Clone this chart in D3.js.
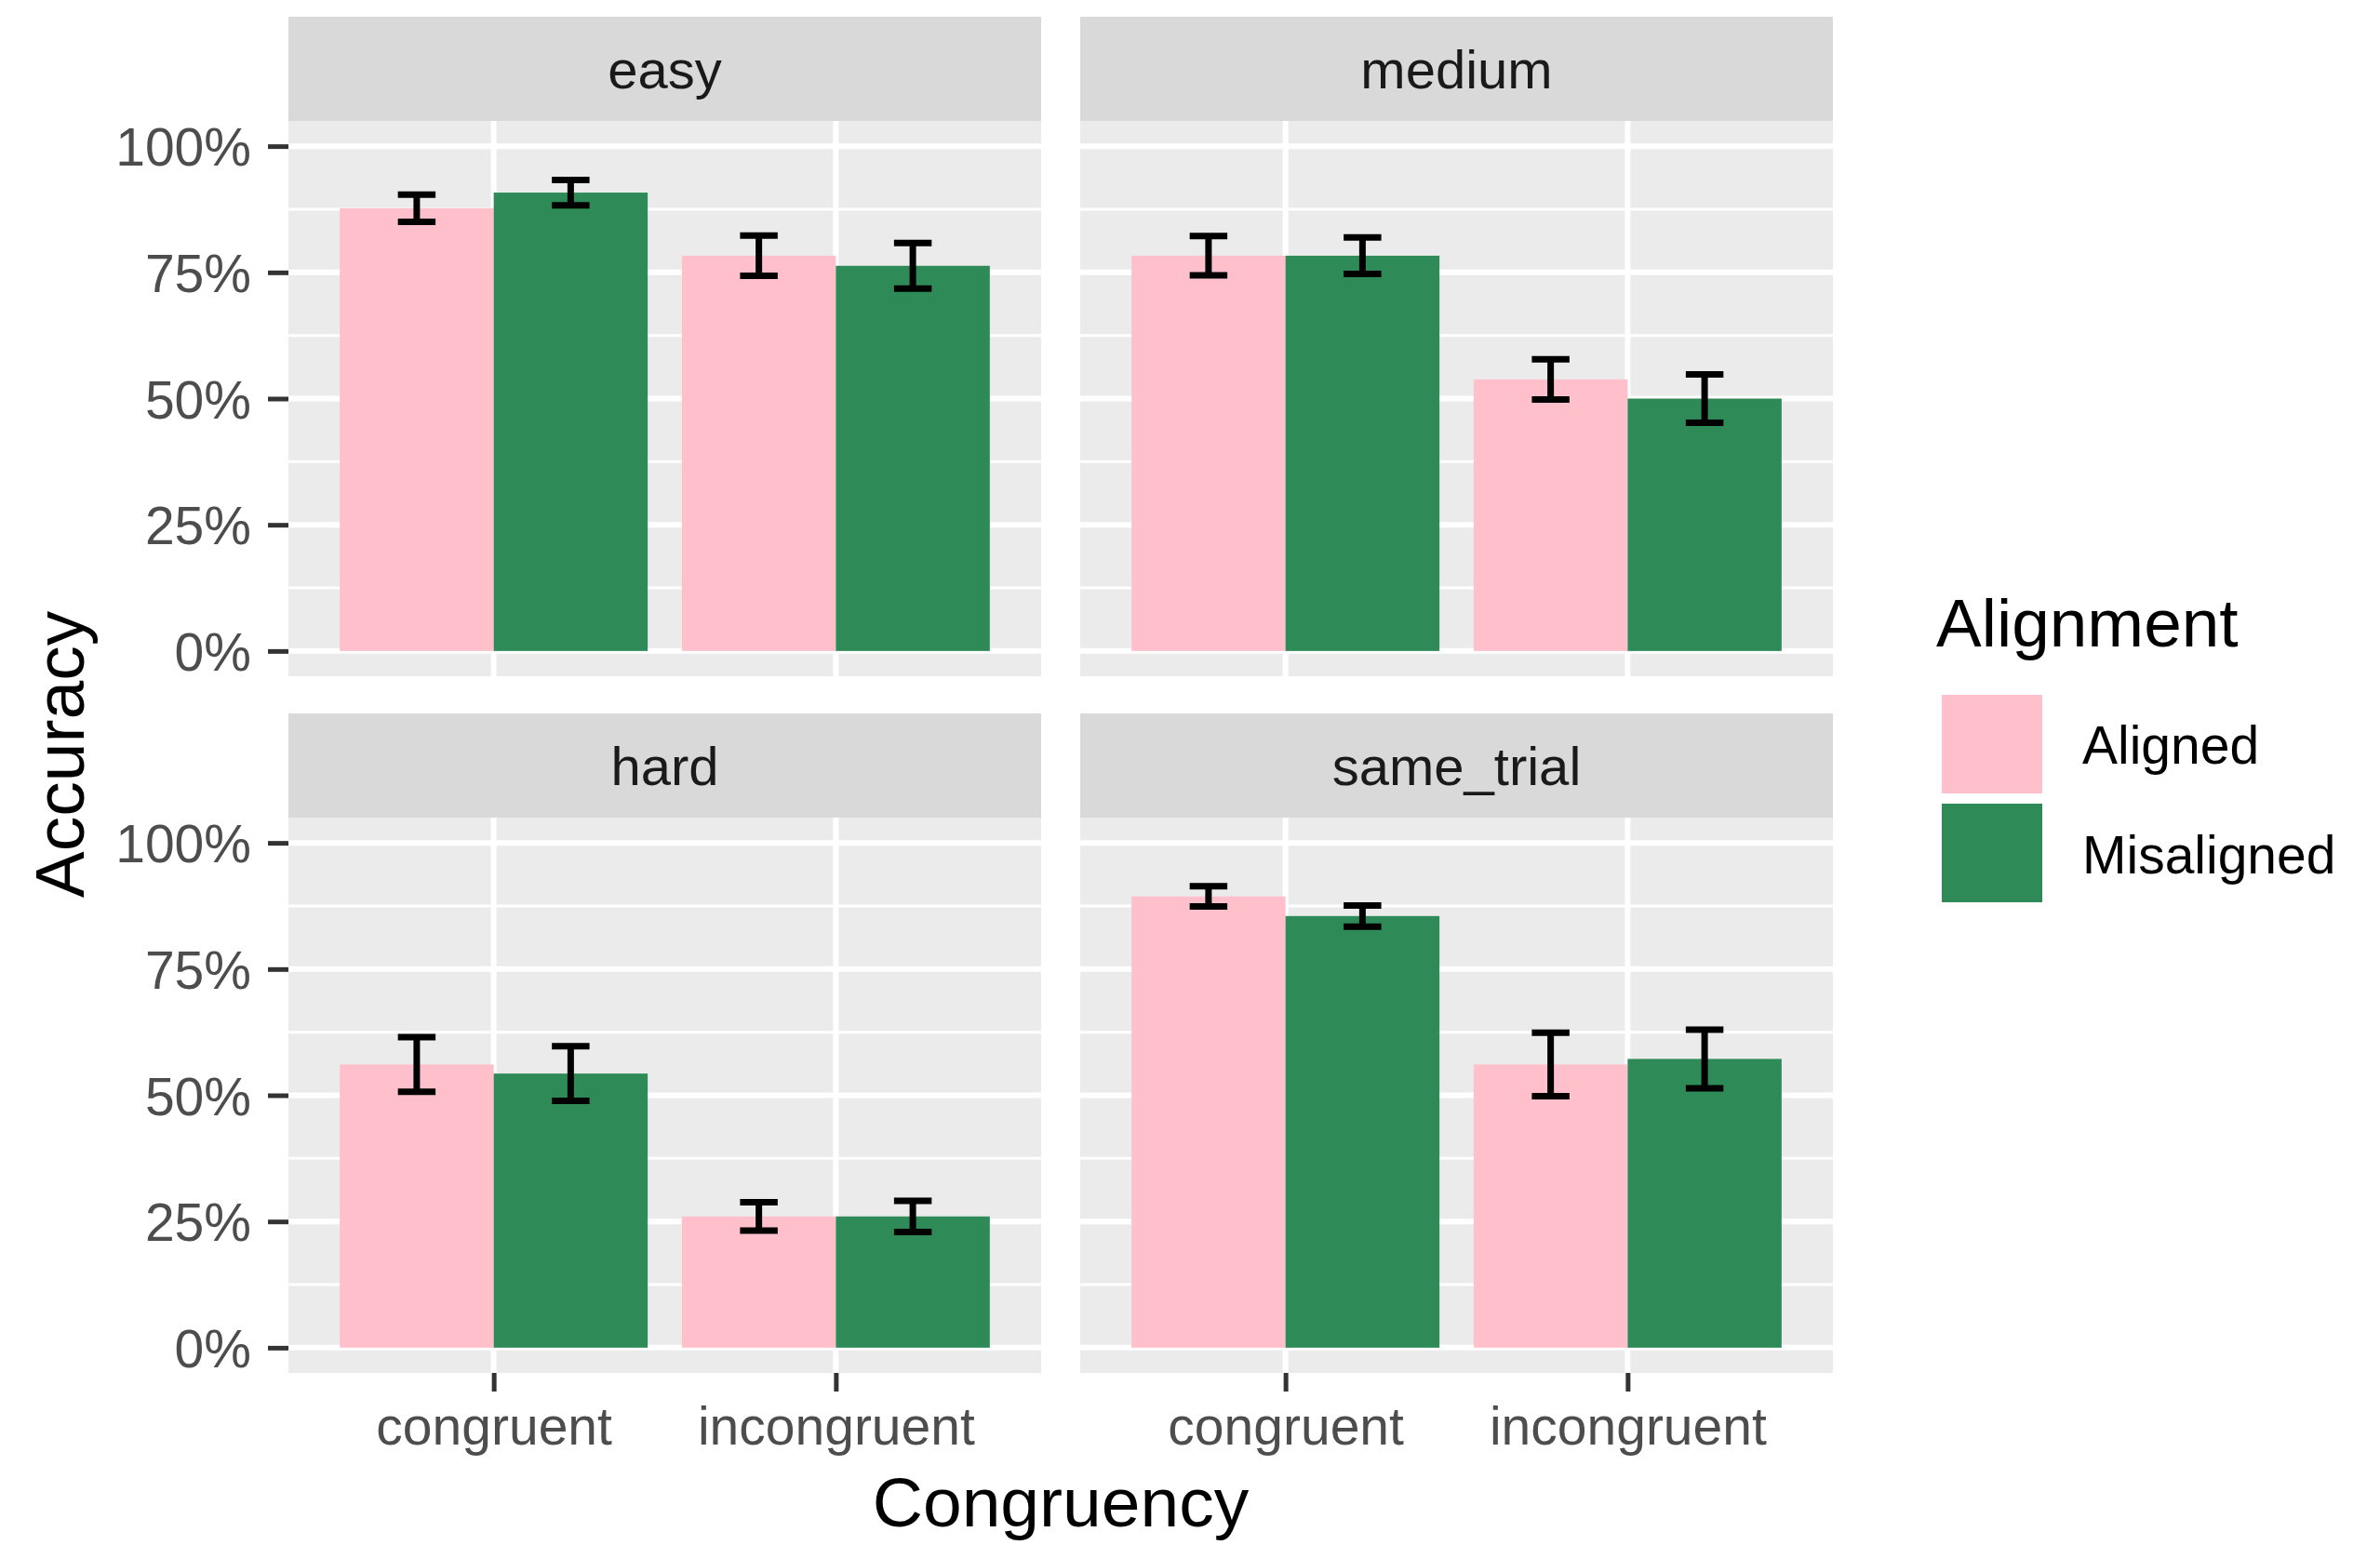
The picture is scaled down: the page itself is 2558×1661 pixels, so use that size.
<!DOCTYPE html>
<html>
<head>
<meta charset="utf-8">
<script src="https://cdn.jsdelivr.net/npm/d3@7"></script>
<style>
  body { margin: 0; background: #fff; }
  text { font-family: "Liberation Sans", Arial, Helvetica, sans-serif; }
</style>
</head>
<body>
<div id="chart"></div>
<script>
// facets, categories and groups
const panels = ["easy", "medium", "hard", "same_trial"];
const congruency = ["congruent", "incongruent"];
const alignment = ["Aligned", "Misaligned"];
const yTicks = [0, 0.25, 0.5, 0.75, 1];

// mean accuracy per panel: [congruent-Aligned, congruent-Misaligned, incongruent-Aligned, incongruent-Misaligned]
const easyAcc   = [0.877, 0.908, 0.783, 0.763];
const mediumAcc = [0.783, 0.783, 0.538, 0.500];
const hardAcc   = [0.561, 0.543, 0.260, 0.260];
const sameAcc   = [0.894, 0.855, 0.561, 0.572];

// error bar half widths, same order
const easyErr   = [0.027, 0.025, 0.040, 0.045];
const mediumErr = [0.039, 0.036, 0.040, 0.048];
const hardErr   = [0.054, 0.054, 0.028, 0.031];
const sameErr   = [0.020, 0.021, 0.063, 0.058];

const accByPanel = [easyAcc, mediumAcc, hardAcc, sameAcc];
const errByPanel = [easyErr, mediumErr, hardErr, sameErr];

const colors = d3.scaleOrdinal().domain(alignment).range(["pink", "seagreen"]);

const width = 2558, height = 1661;
const panelLefts = [310, 1161];
const stripTops = [18, 767];
const stripH = 112;
const pw = 809, ph = 597;

const svg = d3.select("#chart").append("svg")
    .attr("width", width).attr("height", height);
svg.append("rect").attr("width", width).attr("height", height).attr("fill", "#fff");

// ggplot-like discrete x: categories at 1,2, range 0.4..2.6
const x = d3.scaleLinear().domain([0.4, 2.6]).range([0, pw]);
const unit = x(1) - x(0);
const xSub = d3.scaleBand().domain(alignment).range([-0.45 * unit, 0.45 * unit]);
const y = d3.scaleLinear().domain([-0.05, 1.05]).range([ph, 0]);

panels.forEach(function(name, p) {
    var col = p % 2, row = Math.floor(p / 2);
    var left = panelLefts[col];
    var stripTop = stripTops[row];
    var top = stripTop + stripH;

    // strip
    svg.append("rect").attr("x", left).attr("y", stripTop)
        .attr("width", pw).attr("height", stripH).attr("fill", "#D9D9D9");
    svg.append("text").attr("x", left + pw / 2).attr("y", stripTop + stripH / 2 + 21)
        .attr("text-anchor", "middle").attr("font-size", 58).attr("fill", "#1A1A1A")
        .text(name);

    var g = svg.append("g").attr("transform", "translate(" + left + "," + top + ")");
    g.append("rect").attr("width", pw).attr("height", ph).attr("fill", "#EBEBEB");

    // minor grid
    g.selectAll(".minor").data([0.125, 0.375, 0.625, 0.875]).join("line")
        .attr("x1", 0).attr("x2", pw)
        .attr("y1", d => y(d)).attr("y2", d => y(d))
        .attr("stroke", "#fff").attr("stroke-width", 3);
    // major grid
    g.selectAll(".major").data(yTicks).join("line")
        .attr("x1", 0).attr("x2", pw)
        .attr("y1", d => y(d)).attr("y2", d => y(d))
        .attr("stroke", "#fff").attr("stroke-width", 6);
    g.selectAll(".vmajor").data(congruency).join("line")
        .attr("x1", (d, i) => x(i + 1)).attr("x2", (d, i) => x(i + 1))
        .attr("y1", 0).attr("y2", ph)
        .attr("stroke", "#fff").attr("stroke-width", 6);

    var rows = [];
    congruency.forEach(function(c, ci) {
        alignment.forEach(function(a, ai) {
            var k = ci * 2 + ai;
            rows.push({cong: ci, align: a, acc: accByPanel[p][k], err: errByPanel[p][k]});
        });
    });

    g.selectAll(".bar").data(rows).join("rect")
        .attr("x", d => x(d.cong + 1) + xSub(d.align))
        .attr("width", xSub.bandwidth())
        .attr("y", d => y(d.acc))
        .attr("height", d => y(0) - y(d.acc))
        .attr("fill", d => colors(d.align));

    var capW = 0.11 * unit;
    var eb = g.selectAll(".eb").data(rows).join("g")
        .attr("transform", d => "translate(" + (x(d.cong + 1) + xSub(d.align) + xSub.bandwidth() / 2) + ",0)");
    eb.append("line").attr("x1", 0).attr("x2", 0)
        .attr("y1", d => y(d.acc - d.err)).attr("y2", d => y(d.acc + d.err))
        .attr("stroke", "#000").attr("stroke-width", 7);
    eb.append("line").attr("x1", -capW / 2).attr("x2", capW / 2)
        .attr("y1", d => y(d.acc - d.err)).attr("y2", d => y(d.acc - d.err))
        .attr("stroke", "#000").attr("stroke-width", 7);
    eb.append("line").attr("x1", -capW / 2).attr("x2", capW / 2)
        .attr("y1", d => y(d.acc + d.err)).attr("y2", d => y(d.acc + d.err))
        .attr("stroke", "#000").attr("stroke-width", 7);

    // y axis on left column
    if (col === 0) {
        var ya = g.append("g").call(d3.axisLeft(y).tickValues(yTicks)
            .tickFormat(d3.format(".0%")).tickSize(22).tickPadding(18));
        ya.select(".domain").remove();
        ya.selectAll("line").attr("stroke", "#333333").attr("stroke-width", 5);
        ya.selectAll("text").attr("font-size", 57).attr("fill", "#4D4D4D")
            .attr("font-family", "Liberation Sans, Arial, sans-serif").attr("dy", "0.36em");
    }
    // x axis on bottom row
    if (row === 1) {
        var xs = d3.scalePoint().domain(congruency).range([x(1), x(2)]);
        var xa = g.append("g").attr("transform", "translate(0," + ph + ")")
            .call(d3.axisBottom(xs).tickSize(20).tickPadding(14));
        xa.select(".domain").remove();
        xa.selectAll("line").attr("stroke", "#333333").attr("stroke-width", 5);
        xa.selectAll("text").attr("font-size", 57).attr("fill", "#4D4D4D")
            .attr("font-family", "Liberation Sans, Arial, sans-serif").attr("dy", "0.76em");
    }
});

// axis titles
svg.append("text").attr("x", (310 + 1970) / 2).attr("y", 1641)
    .attr("text-anchor", "middle").attr("font-size", 75).attr("fill", "#000")
    .text("Congruency");
svg.append("text").attr("transform", "translate(90,811) rotate(-90)")
    .attr("text-anchor", "middle").attr("font-size", 75).attr("fill", "#000")
    .text("Accuracy");

// legend
const legend = svg.append("g").attr("transform", "translate(2081,0)");
legend.append("text").attr("x", 0).attr("y", 695)
    .attr("font-size", 73).attr("fill", "#000").text("Alignment");
alignment.forEach(function(a, i) {
    legend.append("rect").attr("x", 6).attr("y", 747 + i * 117)
        .attr("width", 108).attr("height", 106).attr("fill", colors(a));
    legend.append("text").attr("x", 157).attr("y", 821 + i * 118)
        .attr("font-size", 57).attr("fill", "#000").text(a);
});
</script>
</body>
</html>
